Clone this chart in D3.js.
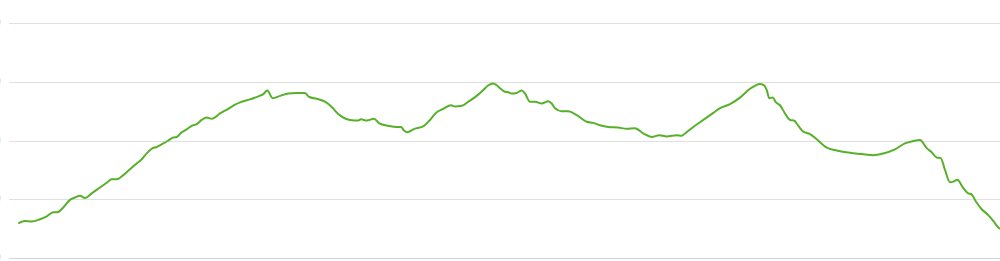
<!DOCTYPE html>
<html>
<head>
<meta charset="utf-8">
<script src="https://cdn.jsdelivr.net/npm/d3@7"></script>
<style>
	html, body { margin: 0; padding: 0; background: #fff; overflow: hidden; }
	#profile { width: 1000px; height: 261px; }
</style>
</head>
<body>
<div id="profile"></div>
<script>
// distance along the route (km) and elevation (m)
var distance = [0.93,1.6,2.27,3.1,3.77,4.43,4.83,5.43,6.1,6.6,7.1,7.6,8.27,9.1,9.77,10.27,10.77,11.43,12.1,12.77,13.27,13.77,14.27,14.77,15.43,15.93,16.43,16.77,17.27,17.77,18.27,18.77,19.27,19.77,20.27,21.1,21.93,22.6,23.1,24.1,
	24.93,25.43,25.83,26.37,27.1,27.93,28.77,29.6,30.03,30.77,31.6,32.27,32.93,34.1,34.93,35.2,35.77,36.5,37.03,37.93,38.77,39.2,39.5,39.83,40.43,41.5,42.1,42.77,43.43,44.2,44.6,45.27,45.93,46.77,47.43,47.93,48.43,48.77,49.1,
	49.6,49.93,50.27,50.77,51.27,51.6,52.1,52.6,53.27,53.93,54.27,54.6,55.27,55.93,56.77,57.77,58.43,59.1,59.93,60.93,61.77,62.6,63.43,64.27,65.03,65.77,66.77,67.27,67.6,68.43,69.43,70.43,71.1,72.1,73.1,74.1,
	74.6,75.1,75.5,75.77,76.03,76.37,76.7,77.1,77.6,78.1,78.5,78.93,79.43,80.1,80.77,81.77,82.77,84.1,85.27,86.43,87.43,88.6,89.6,90.43,91.1,91.77,92.27,92.77,93.17,93.6,94.1,94.43,94.83,95.43,95.93,96.2,96.77,97.27,97.93,98.43,98.93,99.3];

var elevation = [59,63,62,66,71,78,78,86,99,103,106,102,110,120,128,134,134,141,151,161,168,178,186,189,195,200,205,206,214,219,225,228,235,239,237,246,254,261,265,270,
	275,279,285,272,276,280,281,281,274,271,266,257,245,235,234,236,234,237,229,225,223,223,217,214,219,225,235,248,254,260,258,259,266,276,286,294,297,294,289,
	283,282,280,281,285,280,266,266,263,267,263,255,250,250,243,232,230,226,223,222,220,221,212,206,209,207,209,208,212,223,235,247,255,262,273,288,
	293,296,294,286,272,273,265,260,246,235,234,225,215,211,202,188,183,179,177,175,178,185,195,199,201,187,180,171,170,150,129,130,133,119,110,109,94,83,73,63,52,48];

var yTicks = [0, 100, 200, 300, 400];

var margin = {left: 9, top: 23, right: 0, bottom: 3},
	width = 1000 - margin.left - margin.right,
	height = 261 - margin.top - margin.bottom;

var svg = d3.select("#profile").append("svg")
	.attr("width", 1000)
	.attr("height", 261)
	.append("g")
	.attr("transform", "translate(" + margin.left + "," + margin.top + ")");

var x = d3.scaleLinear().domain([0, 99.1]).range([0, width]);
var y = d3.scaleLinear().domain([0, 400]).range([height, 0]);

//grid lines
svg.append("g")
	.selectAll("line")
	.data(yTicks.slice(1))
	.enter().append("line")
	.attr("x1", 0)
	.attr("x2", width)
	.attr("y1", function(d) { return Math.round(y(d)) + 0.5; })
	.attr("y2", function(d) { return Math.round(y(d)) + 0.5; })
	.style("stroke", "#e0e0e0")
	.style("stroke-width", 1);

//axis labels sit just outside the left edge, only a sliver is visible
svg.append("g")
	.selectAll("text")
	.data(yTicks)
	.enter().append("text")
	.attr("x", -8)
	.attr("y", function(d) { return y(d) + 3; })
	.attr("text-anchor", "end")
	.style("font-family", "Lato, sans-serif")
	.style("font-size", "11px")
	.style("fill", "#cfe8c0")
	.text(function(d) { return d; });

//bottom axis line
svg.append("line")
	.attr("x1", 0)
	.attr("x2", width)
	.attr("y1", Math.round(y(0)) + 0.5)
	.attr("y2", Math.round(y(0)) + 0.5)
	.style("stroke", "#ccd6eb")
	.style("stroke-width", 1);

var line = d3.line()
	.x(function(d, i) { return x(distance[i]); })
	.y(function(d) { return y(d); })
	.curve(d3.curveMonotoneX);

svg.append("path")
	.datum(elevation)
	.attr("d", line)
	.style("fill", "none")
	.style("stroke", "#57b02a")
	.style("stroke-width", 2)
	.style("stroke-linejoin", "round");
</script>
</body>
</html>
